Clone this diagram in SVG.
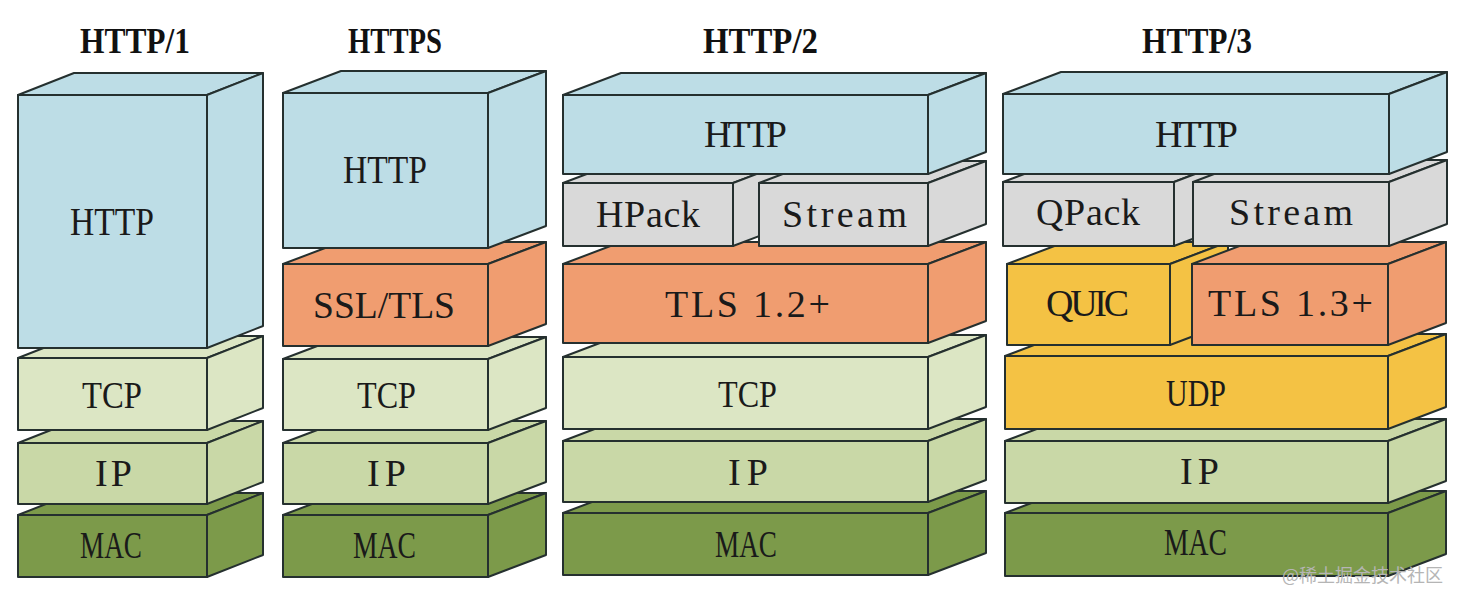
<svg xmlns="http://www.w3.org/2000/svg" width="1462" height="604" viewBox="0 0 1462 604">
<style>
.f{stroke:#25302f;stroke-width:2;stroke-linejoin:round}
.blue{fill:#bddde6}
.gray{fill:#d9d9d9}
.org{fill:#f09d70}
.yel{fill:#f4c244}
.tcp{fill:#dce6c4}
.ip{fill:#c9d8a7}
.mac{fill:#7c9a4a}
.t{font-family:"Liberation Serif","Times New Roman",serif;font-size:38px;fill:#1a1a1a}
.m{font-family:"Liberation Serif","Times New Roman",serif;font-size:38px;fill:#1a1a1a}
.h{font-family:"Liberation Serif","Times New Roman",serif;font-size:36px;font-weight:bold;fill:#111}
.wm{font-family:"Noto Sans CJK SC","Noto Sans",sans-serif;font-size:18px;fill:#b5b5b5}
</style>
<rect width="1462" height="604" fill="#ffffff"/>

<g id="titles">
<text class="h" x="80" y="53" textLength="110" lengthAdjust="spacingAndGlyphs">HTTP/1</text>
<text class="h" x="348" y="53" textLength="94" lengthAdjust="spacingAndGlyphs">HTTPS</text>
<text class="h" x="703" y="53" textLength="115" lengthAdjust="spacingAndGlyphs">HTTP/2</text>
<text class="h" x="1142" y="53" textLength="110" lengthAdjust="spacingAndGlyphs">HTTP/3</text>
</g>

<!-- ===== HTTP/1 column ===== -->
<g id="h1-mac" class="f mac">
<polygon points="18,515 74,493 263,493 207,515"/>
<polygon points="207,515 263,493 263,555 207,577"/>
<rect x="18" y="515" width="189" height="62"/>
<text class="t" x="80" y="558" textLength="62" lengthAdjust="spacingAndGlyphs" stroke="none">MAC</text>
</g>
<g id="h1-ip" class="f ip">
<polygon points="18,443 74,421 263,421 207,443"/>
<polygon points="207,443 263,421 263,482 207,504"/>
<rect x="18" y="443" width="189" height="61"/>
<text class="t" x="95" y="486" textLength="37" lengthAdjust="spacing" stroke="none">IP</text>
</g>
<g id="h1-tcp" class="f tcp">
<polygon points="18,358 74,336 263,336 207,358"/>
<polygon points="207,358 263,336 263,408 207,430"/>
<rect x="18" y="358" width="189" height="72"/>
<text class="t" x="82" y="408" textLength="60" lengthAdjust="spacingAndGlyphs" stroke="none">TCP</text>
</g>
<g id="h1-http" class="f blue">
<polygon points="18,95 74,73 263,73 207,95"/>
<polygon points="207,95 263,73 263,326 207,348"/>
<rect x="18" y="95" width="189" height="253"/>
<text class="t" x="70" y="235" textLength="84" lengthAdjust="spacingAndGlyphs" stroke="none" style="font-size:40px">HTTP</text>
</g>

<!-- ===== HTTPS column ===== -->
<g id="hs-mac" class="f mac">
<polygon points="283,515 341,493 546,493 488,515"/>
<polygon points="488,515 546,493 546,555 488,577"/>
<rect x="283" y="515" width="205" height="62"/>
<text class="t" x="353" y="558" textLength="63" lengthAdjust="spacingAndGlyphs" stroke="none">MAC</text>
</g>
<g id="hs-ip" class="f ip">
<polygon points="283,443 341,421 546,421 488,443"/>
<polygon points="488,443 546,421 546,482 488,504"/>
<rect x="283" y="443" width="205" height="61"/>
<text class="t" x="367" y="486" textLength="39" lengthAdjust="spacing" stroke="none">IP</text>
</g>
<g id="hs-tcp" class="f tcp">
<polygon points="283,359 341,337 546,337 488,359"/>
<polygon points="488,359 546,337 546,408 488,430"/>
<rect x="283" y="359" width="205" height="71"/>
<text class="t" x="357" y="408" textLength="59" lengthAdjust="spacingAndGlyphs" stroke="none">TCP</text>
</g>
<g id="hs-tls" class="f org">
<polygon points="283,264 341,242 546,242 488,264"/>
<polygon points="488,264 546,242 546,324 488,346"/>
<rect x="283" y="264" width="205" height="82"/>
<text class="t" x="313" y="318" textLength="142" lengthAdjust="spacingAndGlyphs" stroke="none">SSL/TLS</text>
</g>
<g id="hs-http" class="f blue">
<polygon points="283,93 341,71 546,71 488,93"/>
<polygon points="488,93 546,71 546,226 488,248"/>
<rect x="283" y="93" width="205" height="155"/>
<text class="t" x="343" y="183" textLength="84" lengthAdjust="spacingAndGlyphs" stroke="none" style="font-size:40px">HTTP</text>
</g>

<!-- ===== HTTP/2 column ===== -->
<g id="h2-mac" class="f mac">
<polygon points="563,513 621,491 986,491 928,513"/>
<polygon points="928,513 986,491 986,553 928,575"/>
<rect x="563" y="513" width="365" height="62"/>
<text class="t" x="715" y="557" textLength="62" lengthAdjust="spacingAndGlyphs" stroke="none">MAC</text>
</g>
<g id="h2-ip" class="f ip">
<polygon points="563,441 621,419 986,419 928,441"/>
<polygon points="928,441 986,419 986,480 928,502"/>
<rect x="563" y="441" width="365" height="61"/>
<text class="t" x="728" y="485" textLength="40" lengthAdjust="spacing" stroke="none">IP</text>
</g>
<g id="h2-tcp" class="f tcp">
<polygon points="563,357 621,335 986,335 928,357"/>
<polygon points="928,357 986,335 986,407 928,429"/>
<rect x="563" y="357" width="365" height="72"/>
<text class="t" x="718" y="407" textLength="59" lengthAdjust="spacingAndGlyphs" stroke="none">TCP</text>
</g>
<g id="h2-tls" class="f org">
<polygon points="563,264 621,242 986,242 928,264"/>
<polygon points="928,264 986,242 986,321 928,343"/>
<rect x="563" y="264" width="365" height="79"/>
<text class="m" x="665" y="317" textLength="165" lengthAdjust="spacing" stroke="none">TLS 1.2+</text>
</g>
<g id="h2-hpack" class="f gray">
<polygon points="563,183 621,161 791,161 733,183"/>
<polygon points="733,183 791,161 791,224 733,246"/>
<rect x="563" y="183" width="170" height="63"/>
<text class="m" x="596" y="227" textLength="104" lengthAdjust="spacing" stroke="none">HPack</text>
</g>
<g id="h2-stream" class="f gray">
<polygon points="759,183 817,161 986,161 928,183"/>
<polygon points="928,183 986,161 986,224 928,246"/>
<rect x="759" y="183" width="169" height="63"/>
<text class="m" x="782" y="227" textLength="125" lengthAdjust="spacing" stroke="none">Stream</text>
</g>
<g id="h2-http" class="f blue">
<polygon points="563,95 621,73 986,73 928,95"/>
<polygon points="928,95 986,73 986,152 928,174"/>
<rect x="563" y="95" width="365" height="79"/>
<text class="m" x="704" y="147" textLength="83" lengthAdjust="spacing" stroke="none">HTTP</text>
</g>

<!-- ===== HTTP/3 column ===== -->
<g id="h3-mac" class="f mac">
<polygon points="1005,513 1063,491 1446,491 1388,513"/>
<polygon points="1388,513 1446,491 1446,554 1388,576"/>
<rect x="1005" y="513" width="383" height="63"/>
<text class="t" x="1164" y="555" textLength="63" lengthAdjust="spacingAndGlyphs" stroke="none">MAC</text>
</g>
<g id="h3-ip" class="f ip">
<polygon points="1005,441 1063,419 1446,419 1388,441"/>
<polygon points="1388,441 1446,419 1446,481 1388,503"/>
<rect x="1005" y="441" width="383" height="62"/>
<text class="t" x="1180" y="484" textLength="39" lengthAdjust="spacing" stroke="none">IP</text>
</g>
<g id="h3-udp" class="f yel">
<polygon points="1005,356 1063,334 1446,334 1388,356"/>
<polygon points="1388,356 1446,334 1446,407 1388,429"/>
<rect x="1005" y="356" width="383" height="73"/>
<text class="t" x="1166" y="406" textLength="60" lengthAdjust="spacingAndGlyphs" stroke="none">UDP</text>
</g>
<g id="h3-quic" class="f yel">
<polygon points="1007,264 1065,242 1228,242 1170,264"/>
<polygon points="1170,264 1228,242 1228,323 1170,345"/>
<rect x="1007" y="264" width="163" height="81"/>
<text class="m" x="1046" y="316" textLength="83" lengthAdjust="spacing" stroke="none">QUIC</text>
</g>
<g id="h3-tls" class="f org">
<polygon points="1192,264 1250,242 1446,242 1388,264"/>
<polygon points="1388,264 1446,242 1446,323 1388,345"/>
<rect x="1192" y="264" width="196" height="81"/>
<text class="m" x="1208" y="316" textLength="165" lengthAdjust="spacing" stroke="none">TLS 1.3+</text>
</g>
<g id="h3-qpack" class="f gray">
<polygon points="1003,182 1061,160 1232,160 1174,182"/>
<polygon points="1174,182 1232,160 1232,224 1174,246"/>
<rect x="1003" y="182" width="171" height="64"/>
<text class="m" x="1036" y="225" textLength="104" lengthAdjust="spacing" stroke="none">QPack</text>
</g>
<g id="h3-stream" class="f gray">
<polygon points="1193,182 1251,160 1447,160 1389,182"/>
<polygon points="1389,182 1447,160 1447,224 1389,246"/>
<rect x="1193" y="182" width="196" height="64"/>
<text class="m" x="1229" y="225" textLength="124" lengthAdjust="spacing" stroke="none">Stream</text>
</g>
<g id="h3-http" class="f blue">
<polygon points="1003,94 1061,72 1447,72 1389,94"/>
<polygon points="1389,94 1447,72 1447,152 1389,174"/>
<rect x="1003" y="94" width="386" height="80"/>
<text class="m" x="1155" y="147" textLength="83" lengthAdjust="spacing" stroke="none">HTTP</text>
</g>

<text class="wm" x="1282" y="582" textLength="161" lengthAdjust="spacingAndGlyphs">@稀土掘金技术社区</text>
</svg>
